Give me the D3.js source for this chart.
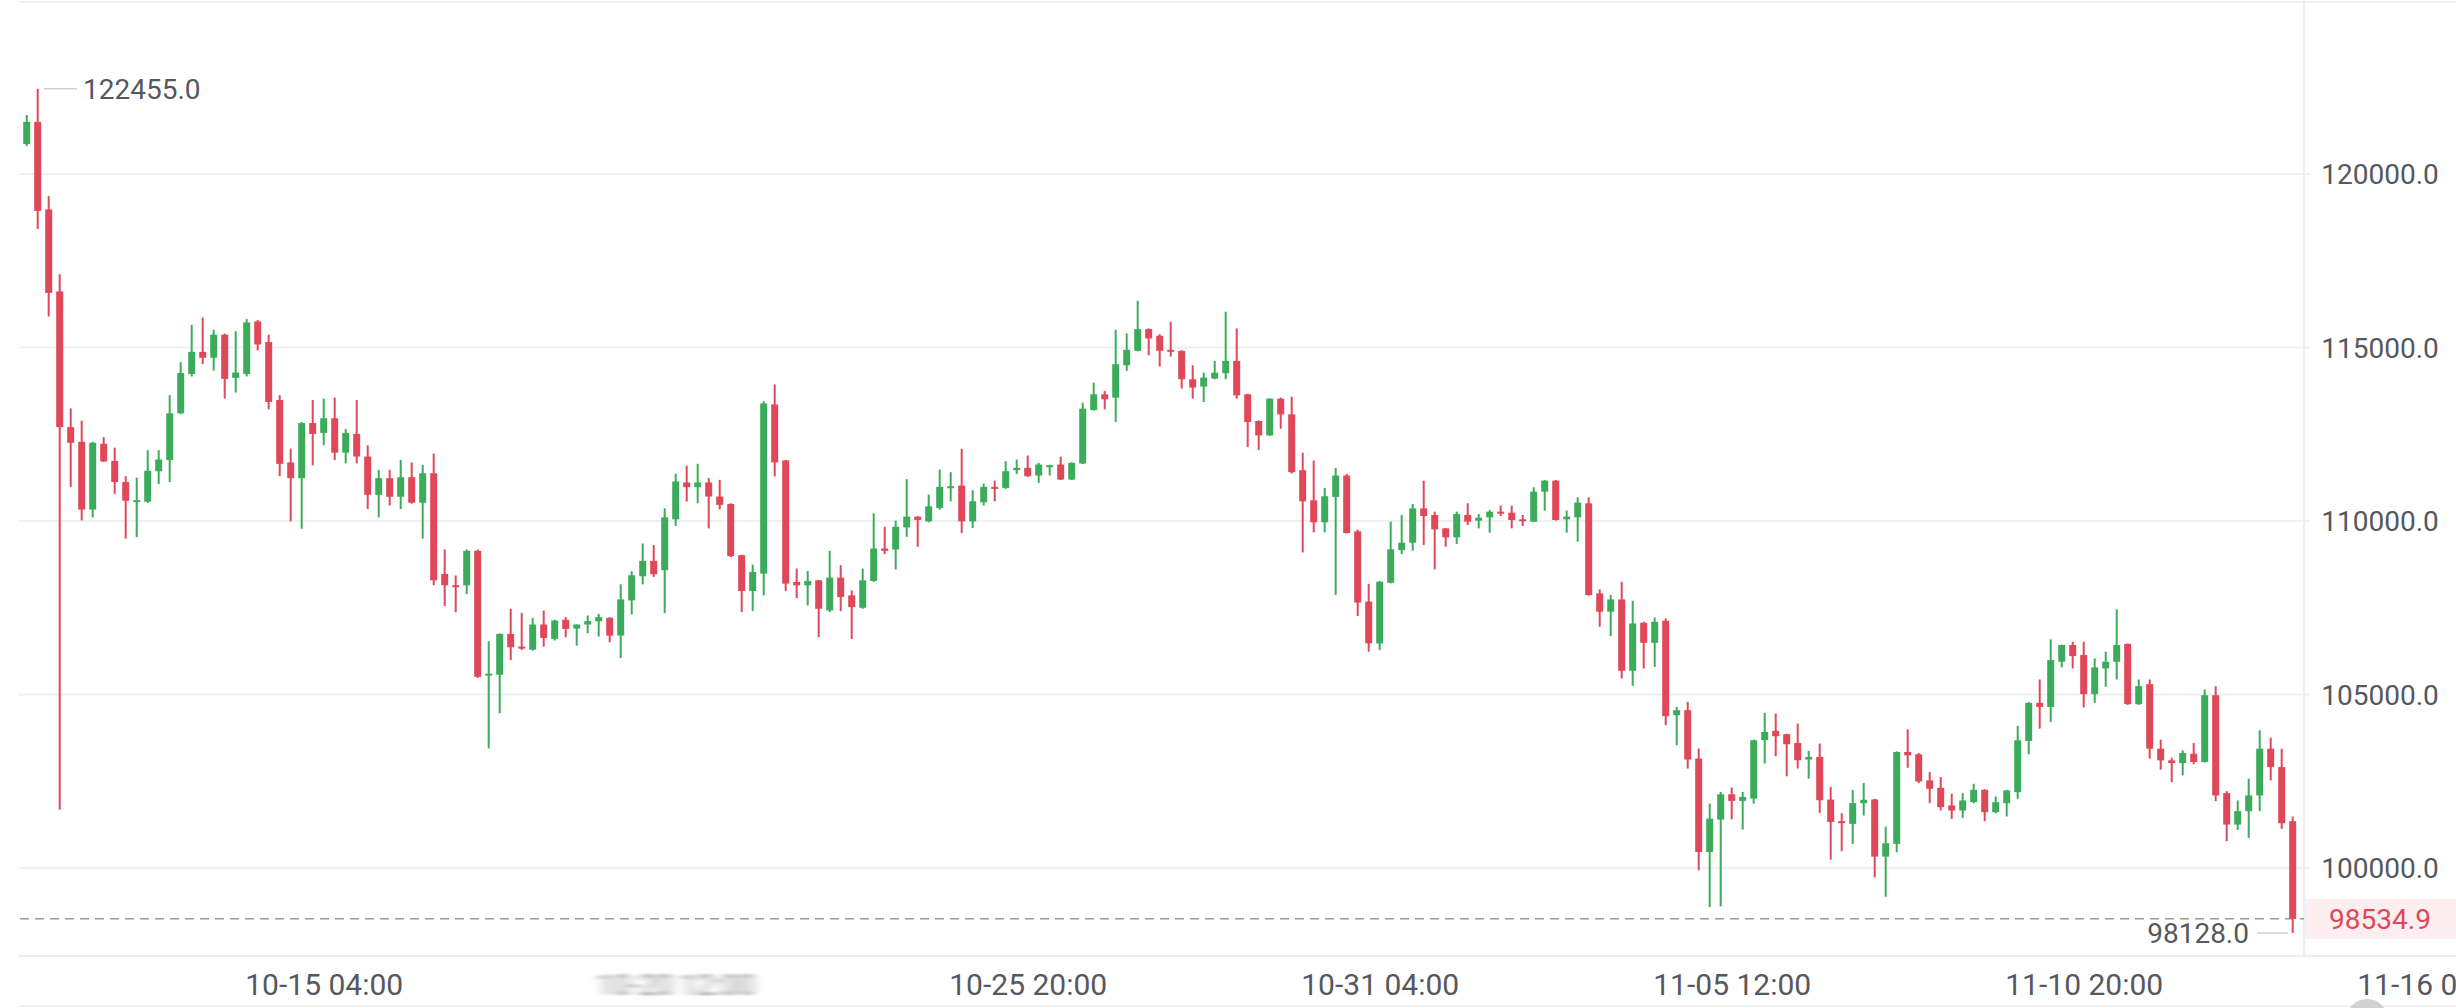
<!DOCTYPE html>
<html>
<head>
<meta charset="utf-8">
<script src="https://cdn.jsdelivr.net/npm/d3@7"></script>
<style>
html,body{margin:0;padding:0;background:#fff;overflow:hidden;}
svg{display:block;font-family:Roboto,"Liberation Sans",Arial,sans-serif;}
</style>
</head>
<body>
<svg id="chart" width="2456" height="1008"></svg>
<script>
// ---- data (4h candles, BTC/USDT) ----
const startTime = "2025-10-10T16:00:00";
const stepHours = 4;
const opens = [120864,121501,118980,116616,112707,112283,110329,112226,111731,111122,110570,110555,111433,111759,113104,114237,114874,114704,115370,114124,114237,115752,115157,113486,111688,111235,112821,112537,112962,111971,112509,111858,110754,111235,110697,111263,110527,111377,108474,108150,108148,109141,105589,105569,106747,106380,106293,107017,106602,107152,106900,107017,107113,107210,106698,107712,108407,108851,108581,110048,111110,110975,111110,110705,110492,109015,107982,108484,113359,111747,108243,108146,108291,107422,108368,107857,107500,108272,109208,109180,109816,110125,109990,110376,110980,111021,109990,110540,110983,110954,111464,111532,111310,111580,111628,111195,111657,113198,113651,113555,114489,114904,115530,115337,114933,114904,114085,113873,114104,114258,114615,113651,112881,112466,113526,113073,111464,110597,109961,110694,111310,109702,107678,106471,108221,109163,109375,110365,110173,109788,109529,110173,110010,110106,110269,110240,110048,109981,110846,111163,110048,110106,110510,107913,107385,107740,105683,107067,106490,107125,104404,104548,103154,100462,101394,102125,101933,102000,103683,103952,103856,103606,103125,103202,101971,101350,101272,101869,101975,100328,100694,103343,103276,102524,102312,101802,101657,101898,102254,101609,101869,102187,103661,104759,104643,105944,106426,106137,105010,105751,105944,106455,104721,105299,103439,103102,103025,103295,103054,104981,102158,101252,101638,102091,103439,102909,101349];
const highs = [121699,122455,119363,117111,113246,112892,112280,112416,112113,111292,111249,112042,112042,113628,114577,115653,115865,115511,115400,115469,115823,115794,115370,113628,112085,112850,113486,113529,113557,112651,113486,112184,111476,111476,111759,111688,111617,111943,109182,108431,109182,109180,106534,106760,107471,107355,107210,107422,107152,107230,107017,107278,107326,107230,108175,108552,109353,109305,110367,111361,111593,111650,111235,111187,110510,109030,108745,113455,113938,111760,108629,108561,108300,109141,108726,108002,108629,110222,109835,110010,111206,110140,110761,111484,111407,112081,110886,111079,111166,111725,111773,111888,111676,111620,111850,111695,113410,113988,113748,115511,115405,116349,115550,115385,115742,114920,114489,114277,114615,116031,115549,113670,112900,113540,113555,113584,111965,111744,110954,111532,111358,109750,108189,108270,109981,110173,110490,111163,110269,109800,110269,110510,110202,110317,110442,110442,110173,110971,111183,111183,110298,110683,110683,108029,107865,108250,107702,107096,107221,107192,104644,104788,103442,101856,102192,102317,102192,103700,104471,104452,103870,104163,103375,103587,102337,101580,102254,102447,101994,101195,103360,103998,103314,102765,102620,102139,102158,102428,102270,102062,102254,104094,104780,105434,106590,106440,106522,106522,106040,106233,107457,106474,105434,105434,103699,103179,103391,103603,105145,105241,102216,101946,102572,103969,103757,103439,101484];
const lows = [120800,118414,115894,101677,110980,110017,110102,111700,110782,109493,109535,110520,111065,111122,113080,114166,114520,114336,113529,113699,114166,114917,113217,111292,109989,109776,111603,112184,111759,111660,111660,110343,110102,110442,110343,110500,109493,108150,107553,107369,107893,105480,103445,104459,105994,106283,106264,106380,106554,106650,106409,106766,106670,106505,106052,107307,108175,108388,107345,109855,110560,110512,109787,110338,108960,107374,107403,107857,111284,107982,107780,107567,106650,107374,107403,106602,107471,108250,109044,108600,109546,109257,109961,110327,110568,109653,109798,110443,110568,110925,111358,111272,111098,111310,111180,111180,111640,113180,113218,112852,114326,114890,114778,114451,114740,113815,113526,113430,114085,114085,113526,112129,112042,112450,112659,111368,109094,109672,109672,107871,109640,107264,106233,106279,108200,109048,109144,109308,108606,109260,109337,109885,109788,109663,110144,109788,109856,109970,110298,110010,109663,109404,107850,106952,106683,105462,105250,105750,105798,104115,103539,102865,99933,98875,98894,101404,101106,101856,103010,103221,102644,102865,102577,101587,100241,100482,100694,101513,99730,99171,100453,102890,102447,101869,101657,101416,101445,101869,101349,101580,101484,101994,103276,104017,104210,105780,105751,104624,104759,105222,105434,104700,104700,103150,102832,102476,102669,102987,103040,101927,100771,101098,100867,101638,102524,101127,98128];
const closes = [121501,118938,116573,112707,112254,110329,112254,111716,111122,110584,110600,111447,111773,113104,114265,114874,114704,115370,114095,114280,115724,115087,113430,111646,111235,112821,112509,112962,111971,112537,111858,110754,111235,110697,111263,110527,111377,108290,108148,108120,109139,105511,105600,106747,106361,106340,107017,106631,107133,106892,107017,107113,107229,106698,107741,108436,108851,108465,110106,111139,110975,111110,110705,110463,108986,107982,108532,113388,111689,108195,108146,108272,107471,108368,107808,107519,108291,109208,109140,109836,110125,110030,110424,110983,111002,109990,110568,110983,110954,111435,111532,111291,111628,111610,111195,111676,113237,113651,113507,114518,114933,115530,115260,114904,114890,114085,113844,114133,114277,114615,113622,112852,112466,113526,113073,111407,110568,109961,110713,111310,109653,107649,106474,108250,109183,109375,110365,110144,109760,109529,110202,109981,110096,110269,110221,110029,110000,110846,111163,110029,110125,110529,107865,107385,107740,105683,107048,106490,107096,104375,104548,103125,100462,101423,102125,101933,102048,103683,103923,103798,103567,103106,103202,101952,101327,101310,101869,101965,100328,100713,103343,103247,102495,102283,101753,101657,101946,102254,101609,101898,102235,103680,104759,104643,105992,106426,106108,105010,105780,105944,106426,104721,105241,103439,103102,103025,103314,103054,104981,102091,101252,101638,102091,103439,102909,101291,98534.9];
const yTicks = [100000,105000,110000,115000,120000];
const xTickLabels = ["10-15 04:00","10-20 12:00","10-25 20:00","10-31 04:00","11-05 12:00","11-10 20:00","11-16 04:00"];
const hiddenTick = "10-20 12:00";
const highLabel = 122455.0;
const lowLabel = 98128.0;
const lastPrice = 98534.9;

// ---- build ----
const t0 = new Date(startTime);
const times = opens.map((_, i) => new Date(t0.getTime() + i * stepHours * 3600e3));
const candles = times.map((t, i) => ({t, o: opens[i], h: highs[i], l: lows[i], c: closes[i]}));

const svg = d3.select("#chart");
const W = 2456, H = 1008;
const plotL = 19, plotR = 2304, axisY = 956;

const x = d3.scaleTime().domain([times[0], times[times.length - 1]]).range([26.7, 2292.7]);
const y = d3.scaleLinear().domain([100000, 120000]).range([868, 174]);

const green = "#3cac5c", red = "#e0485a", textCol = "#55585e";

// top line
svg.append("line").attr("x1", plotL).attr("x2", W).attr("y1", 2).attr("y2", 2)
  .attr("stroke", "#f0f0f0").attr("stroke-width", 2);

// y grid
svg.append("g").selectAll("line").data(yTicks).join("line")
  .attr("x1", plotL).attr("x2", 2310)
  .attr("y1", d => y(d)).attr("y2", d => y(d))
  .attr("stroke", "#f0f0f0").attr("stroke-width", 2);

// right border & bottom axis line
svg.append("line").attr("x1", plotR).attr("x2", plotR).attr("y1", 0).attr("y2", axisY)
  .attr("stroke", "#e8f0f5").attr("stroke-width", 2);
svg.append("line").attr("x1", plotL).attr("x2", W).attr("y1", axisY).attr("y2", axisY)
  .attr("stroke", "#e8eef2").attr("stroke-width", 2);
svg.append("line").attr("x1", plotL).attr("x2", W).attr("y1", 1006).attr("y2", 1006)
  .attr("stroke", "#eef1f3").attr("stroke-width", 2);

// y axis labels
const yAxis = d3.axisRight(y).tickValues(yTicks).tickFormat(d3.format(".1f")).tickSize(0);
const gy = svg.append("g").attr("transform", "translate(2380,0)").call(yAxis);
gy.select(".domain").remove();
gy.selectAll("text").attr("x", 0).attr("dy", "0.35em").attr("text-anchor", "middle")
  .attr("fill", textCol).style("font-size", "28px").style("font-family", "Roboto, 'Liberation Sans', Arial, sans-serif");

// x axis labels
const parseTick = d3.timeParse("%Y-%m-%d %H:%M");
const tickDates = xTickLabels.map(s => parseTick("2025-" + s));
const defs = svg.append("defs");
const blur = defs.append("filter").attr("id", "smear").attr("x", "-20%").attr("width", "140%");
blur.append("feGaussianBlur").attr("stdDeviation", "6 1");
const xAxis = d3.axisBottom(x).tickValues(tickDates).tickFormat(d3.timeFormat("%m-%d %H:%M")).tickSize(0);
const gx = svg.append("g").attr("transform", `translate(0,${984})`).call(xAxis);
gx.select(".domain").remove();
gx.selectAll("text").attr("y", 0).attr("dy", "0.35em")
  .attr("fill", textCol).style("font-size", "30px").style("font-family", "Roboto, 'Liberation Sans', Arial, sans-serif")
  .each(function(d) {
    if (d3.timeFormat("%m-%d %H:%M")(d) === hiddenTick) {
      d3.select(this).attr("filter", "url(#smear)").attr("fill", "#777").attr("opacity", 0.8);
    }
  });

// last price dashed line
svg.append("line").attr("x1", 20).attr("x2", plotR).attr("y1", y(lastPrice)).attr("y2", y(lastPrice))
  .attr("stroke", "#9a9a9a").attr("stroke-width", 1.5).attr("stroke-dasharray", "9 6");

// candles
const g = svg.append("g");
const cg = g.selectAll("g").data(candles).join("g");
cg.append("line")
  .attr("x1", d => x(d.t)).attr("x2", d => x(d.t))
  .attr("y1", d => y(d.h)).attr("y2", d => y(d.l))
  .attr("stroke", d => d.c >= d.o ? green : red).attr("stroke-width", 2);
cg.append("rect")
  .attr("x", d => x(d.t) - 3.5).attr("width", 7)
  .attr("y", d => y(Math.max(d.o, d.c)))
  .attr("height", d => Math.max(2, Math.abs(y(d.o) - y(d.c))))
  .attr("fill", d => d.c >= d.o ? green : red);

// high label
const hiIdx = highs.indexOf(d3.max(highs));
svg.append("line").attr("x1", x(times[hiIdx]) + 6).attr("x2", 77)
  .attr("y1", y(highLabel)).attr("y2", y(highLabel)).attr("stroke", "#cfcfcf").attr("stroke-width", 1.5);
svg.append("text").attr("x", 83).attr("y", y(highLabel)).attr("dy", "0.35em")
  .attr("fill", textCol).style("font-size", "28px").text(d3.format(".1f")(highLabel));

// low label
const loIdx = lows.indexOf(d3.min(lows));
svg.append("line").attr("x1", 2257).attr("x2", x(times[loIdx]) - 5)
  .attr("y1", y(lowLabel)).attr("y2", y(lowLabel)).attr("stroke", "#cfcfcf").attr("stroke-width", 1.5);
svg.append("text").attr("x", 2249).attr("y", y(lowLabel)).attr("dy", "0.35em").attr("text-anchor", "end")
  .attr("fill", textCol).style("font-size", "28px").text(d3.format(".1f")(lowLabel));

// last price box
svg.append("rect").attr("x", 2305).attr("y", y(lastPrice) - 20).attr("width", W - 2305).attr("height", 40)
  .attr("fill", "#fdeef0");
svg.append("text").attr("x", 2380).attr("y", y(lastPrice)).attr("dy", "0.35em").attr("text-anchor", "middle")
  .attr("fill", red).style("font-size", "28px").text(d3.format(".1f")(lastPrice));

// scroll handle
svg.append("circle").attr("cx", 2367).attr("cy", 1020).attr("r", 21).attr("fill", "#d2d2d2");
</script>
</body>
</html>
